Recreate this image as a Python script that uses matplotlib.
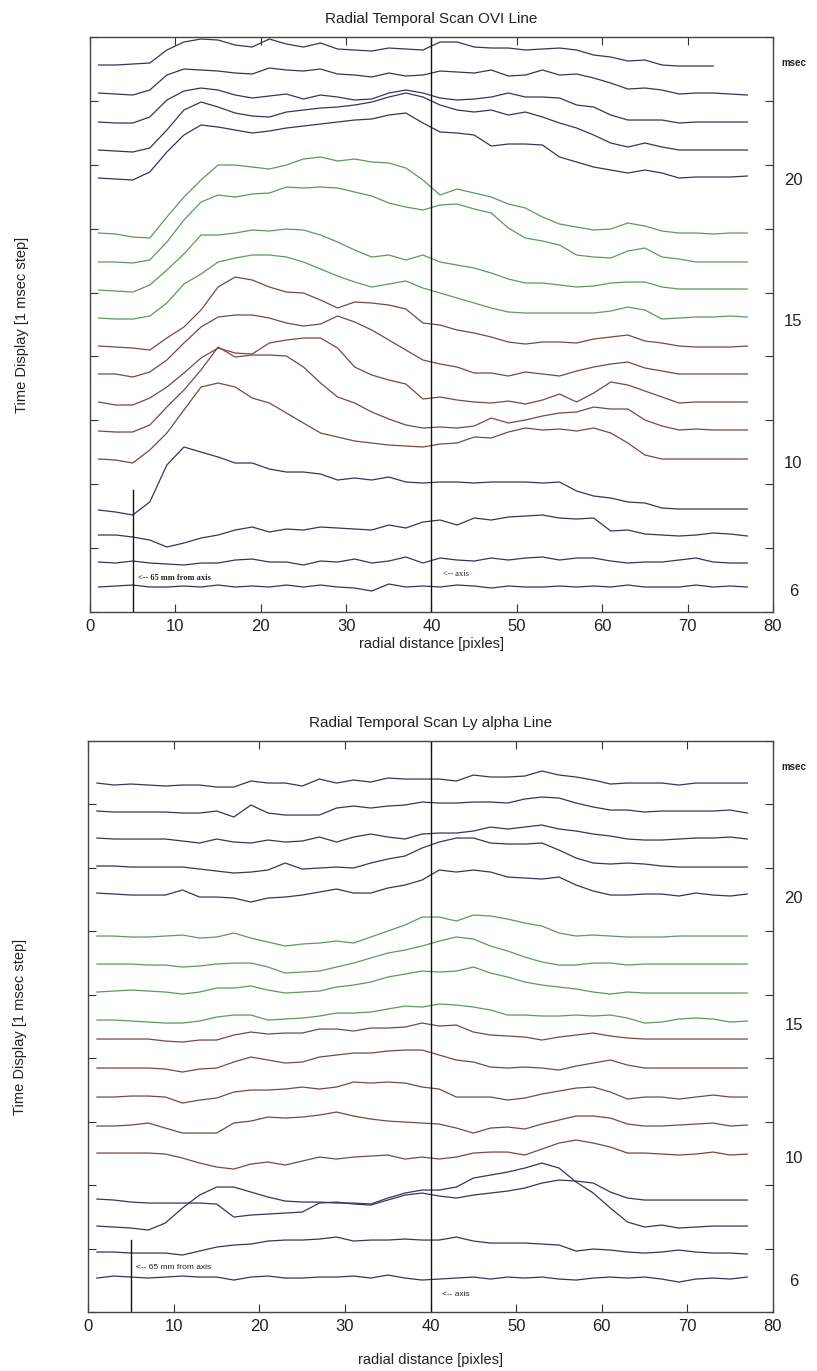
import numpy as np
import matplotlib
matplotlib.use("Agg")
from matplotlib import pyplot as plt

plt.rcParams['font.family'] = ['Liberation Sans', 'DejaVu Sans']

nan = np.nan

# radial position of every reading [pixels]
radial_px = list(range(1, 78, 2))

# ---- OVI line, one intensity trace per msec (arbitrary units, offset for display)
ovi_24 = [547, 547, 548, 549, 562, 570, 573, 572, 567, 565, 573, 568, 565, 569, 563, 562, 561, 564, 563, 562,
          570, 570, 565, 564, 564, 562, 563, 564, 562, 557, 555, 551, 552, 547, 546, 546, 546, nan, nan]
ovi_23 = [519, 518, 517, 522, 537, 543, 542, 541, 539, 538, 544, 542, 541, 543, 538, 537, 535, 539, 536, 537,
          541, 540, 539, 542, 536, 537, 542, 537, 538, 534, 529, 523, 524, 522, 518, 519, 519, 518, 517]
ovi_22 = [490, 489, 489, 495, 512, 521, 524, 522, 517, 514, 516, 518, 513, 517, 515, 512, 513, 519, 522, 519,
          514, 512, 513, 515, 519, 515, 515, 514, 507, 505, 497, 492, 492, 492, 489, 490, 490, 490, 490]
ovi_21 = [462, 461, 460, 464, 482, 502, 510, 505, 499, 496, 495, 500, 502, 504, 505, 507, 510, 515, 519, 515,
          507, 502, 500, 502, 497, 500, 495, 489, 484, 477, 469, 465, 469, 465, 462, 462, 462, 462, 462]
ovi_20 = [434, 433, 432, 440, 460, 477, 487, 485, 482, 479, 481, 484, 486, 488, 490, 492, 493, 497, 499, 489,
          480, 479, 477, 466, 468, 468, 467, 455, 450, 445, 442, 439, 442, 439, 434, 435, 435, 435, 436]
ovi_18 = [379, 378, 375, 374, 395, 415, 432, 447, 447, 445, 443, 447, 453, 455, 451, 453, 450, 449, 444, 432,
          417, 423, 419, 415, 408, 404, 395, 388, 385, 382, 383, 389, 386, 381, 379, 379, 378, 379, 379]
ovi_17 = [350, 350, 349, 352, 370, 392, 410, 417, 415, 418, 419, 425, 424, 425, 424, 420, 416, 409, 405, 402,
          407, 408, 403, 399, 384, 374, 371, 367, 357, 355, 354, 361, 364, 355, 353, 350, 350, 350, 350]
ovi_16 = [322, 321, 320, 327, 342, 358, 377, 377, 379, 382, 381, 383, 382, 377, 370, 362, 355, 357, 352, 357,
          350, 347, 344, 339, 333, 329, 329, 327, 325, 326, 329, 330, 330, 325, 323, 323, 323, 323, 323]
ovi_15 = [294, 293, 293, 296, 309, 328, 338, 350, 354, 357, 357, 355, 350, 343, 336, 330, 325, 328, 331, 324,
          319, 314, 309, 304, 300, 299, 299, 299, 299, 299, 301, 305, 302, 293, 294, 295, 295, 296, 295]
ovi_14 = [266, 265, 264, 262, 274, 285, 302, 325, 335, 332, 325, 320, 319, 312, 304, 310, 309, 307, 303, 289,
          287, 282, 279, 275, 270, 268, 270, 270, 269, 273, 275, 277, 271, 269, 266, 265, 265, 265, 266]
ovi_13 = [238, 238, 235, 240, 252, 269, 285, 295, 297, 297, 294, 289, 286, 288, 296, 290, 282, 272, 262, 252,
          248, 245, 239, 239, 236, 240, 238, 236, 241, 245, 248, 250, 244, 241, 238, 238, 238, 238, 238]
ovi_12 = [210, 207, 207, 214, 225, 239, 254, 264, 259, 258, 269, 272, 274, 274, 264, 245, 237, 232, 228, 213,
          215, 212, 210, 209, 211, 208, 212, 218, 210, 219, 230, 227, 221, 215, 209, 210, 210, 210, 210]
ovi_11 = [181, 180, 180, 187, 205, 222, 242, 265, 255, 257, 257, 256, 245, 229, 215, 209, 200, 193, 187, 184,
          185, 184, 186, 194, 189, 192, 196, 199, 200, 205, 203, 203, 192, 186, 182, 183, 182, 182, 182]
ovi_10 = [153, 152, 149, 162, 179, 202, 225, 229, 225, 214, 209, 199, 189, 179, 175, 171, 169, 167, 166, 165,
          168, 169, 175, 174, 180, 184, 182, 183, 181, 184, 179, 169, 157, 153, 153, 153, 153, 153, 153]
ovi_09 = [102, 100, 97, 110, 147, 165, 160, 155, 149, 149, 143, 140, 140, 138, 132, 134, 132, 135, 130, 129,
          130, 130, 129, 130, 130, 130, 129, 130, 121, 116, 114, 110, 109, 104, 103, 103, 103, 103, 103]
ovi_08 = [77, 77, 75, 72, 65, 69, 74, 77, 82, 85, 80, 83, 82, 85, 84, 83, 82, 87, 84, 90,
          92, 87, 94, 92, 95, 96, 97, 94, 93, 94, 81, 82, 78, 77, 76, 77, 79, 78, 76]
ovi_07 = [50, 49, 51, 49, 48, 47, 49, 49, 52, 53, 50, 50, 47, 51, 50, 53, 49, 51, 55, 49,
          54, 52, 51, 54, 52, 54, 55, 52, 54, 54, 51, 49, 50, 50, 52, 54, 50, 49, 49]
ovi_06 = [25, 26, 27, 25, 25, 26, 25, 27, 25, 26, 25, 27, 25, 27, 25, 24, 21, 28, 25, 26,
          25, 27, 26, 24, 26, 25, 25, 26, 25, 26, 25, 27, 25, 25, 25, 27, 25, 26, 25]

# ---- Ly alpha line
lya_24 = [529, 527, 528, 527, 526, 527, 527, 525, 525, 531, 529, 529, 526, 533, 529, 532, 530, 534, 533, 533,
          533, 531, 537, 535, 535, 536, 541, 537, 535, 532, 528, 529, 529, 529, 527, 529, 529, 529, 529]
lya_23 = [501, 500, 500, 500, 500, 499, 499, 501, 495, 507, 499, 497, 497, 497, 504, 506, 504, 506, 507, 510,
          509, 509, 510, 510, 509, 513, 515, 514, 509, 505, 502, 502, 500, 501, 501, 501, 501, 502, 499]
lya_22 = [474, 473, 473, 473, 473, 471, 469, 473, 470, 469, 472, 470, 471, 475, 470, 475, 478, 475, 473, 478,
          479, 479, 481, 485, 483, 485, 487, 483, 481, 478, 476, 473, 472, 472, 473, 474, 474, 475, 473]
lya_21 = [446, 446, 445, 445, 445, 445, 443, 441, 439, 440, 442, 449, 443, 444, 445, 444, 449, 453, 456, 464,
          470, 474, 474, 469, 468, 468, 469, 462, 454, 449, 448, 449, 448, 446, 445, 445, 445, 445, 445]
lya_20 = [419, 418, 417, 417, 417, 422, 415, 415, 414, 410, 414, 415, 417, 420, 423, 419, 419, 424, 427, 432,
          442, 440, 442, 440, 435, 434, 433, 435, 427, 421, 417, 417, 418, 418, 416, 419, 417, 416, 418]
lya_18 = [376, 376, 375, 375, 376, 377, 374, 375, 379, 374, 370, 366, 368, 369, 371, 369, 375, 381, 387, 395,
          395, 391, 397, 396, 393, 389, 386, 379, 376, 377, 376, 375, 375, 375, 376, 376, 376, 376, 376]
lya_17 = [348, 348, 348, 347, 347, 345, 346, 348, 349, 349, 345, 339, 340, 341, 345, 349, 354, 359, 362, 366,
          371, 375, 373, 366, 361, 355, 350, 347, 347, 349, 349, 347, 348, 348, 348, 348, 348, 348, 348]
lya_16 = [320, 321, 322, 321, 320, 318, 320, 324, 324, 326, 322, 319, 320, 321, 325, 327, 330, 335, 338, 341,
          340, 341, 345, 339, 335, 330, 327, 325, 323, 320, 318, 320, 319, 319, 319, 319, 319, 319, 319]
lya_15 = [292, 292, 291, 290, 289, 289, 291, 295, 297, 297, 292, 293, 294, 296, 299, 299, 300, 303, 306, 305,
          308, 307, 305, 302, 297, 297, 296, 296, 297, 296, 297, 294, 289, 290, 293, 294, 293, 290, 291]
lya_14 = [273, 273, 273, 273, 271, 270, 272, 272, 277, 280, 278, 279, 279, 283, 283, 281, 284, 284, 285, 289,
          286, 287, 280, 277, 276, 275, 272, 275, 277, 279, 276, 274, 273, 273, 273, 273, 273, 273, 273]
lya_13 = [244, 244, 244, 244, 243, 240, 243, 244, 250, 255, 252, 249, 250, 255, 257, 259, 259, 261, 262, 262,
          257, 252, 250, 245, 244, 245, 244, 242, 246, 249, 252, 247, 244, 244, 244, 244, 244, 244, 244]
lya_12 = [215, 215, 216, 216, 215, 209, 212, 214, 220, 222, 222, 223, 225, 223, 225, 230, 229, 230, 229, 225,
          223, 215, 215, 215, 212, 214, 218, 221, 224, 225, 220, 213, 215, 215, 213, 215, 217, 215, 215]
lya_11 = [186, 186, 187, 189, 184, 179, 179, 179, 189, 191, 195, 194, 195, 197, 200, 196, 193, 191, 190, 189,
          188, 184, 179, 184, 185, 183, 188, 192, 196, 196, 194, 188, 186, 186, 187, 188, 189, 186, 187]
lya_10 = [159, 159, 159, 159, 158, 154, 149, 145, 143, 148, 150, 147, 151, 155, 153, 155, 156, 157, 153, 155,
          153, 155, 159, 160, 160, 157, 163, 169, 172, 169, 165, 159, 159, 158, 157, 158, 160, 157, 158]
lya_09 = [113, 112, 110, 109, 109, 109, 109, 108, 95, 97, 98, 99, 100, 109, 110, 108, 107, 112, 117, 119,
          116, 114, 117, 119, 121, 124, 129, 132, 131, 129, 120, 114, 112, 112, 112, 112, 112, 112, 112]
lya_08 = [86, 85, 84, 82, 89, 104, 117, 125, 125, 120, 115, 111, 110, 110, 109, 109, 108, 114, 119, 122,
          122, 125, 134, 137, 140, 144, 149, 144, 130, 119, 104, 90, 85, 87, 84, 85, 86, 86, 86]
lya_07 = [60, 60, 59, 59, 59, 57, 61, 65, 67, 68, 71, 72, 72, 73, 75, 71, 72, 72, 73, 72,
          72, 75, 71, 69, 69, 69, 68, 67, 61, 63, 62, 60, 59, 60, 62, 60, 59, 59, 58]
lya_06 = [34, 36, 35, 34, 35, 36, 35, 35, 32, 35, 36, 34, 34, 35, 35, 36, 34, 37, 34, 32,
          33, 34, 35, 33, 35, 34, 35, 33, 32, 34, 35, 34, 35, 33, 30, 33, 34, 33, 35]

# msec of each trace, top to bottom, and the colour group it is drawn in
trace_msec = [24, 23, 22, 21, 20, 18, 17, 16, 15, 14, 13, 12, 11, 10, 9, 8, 7, 6]
trace_group = ['b', 'b', 'b', 'b', 'b', 'g', 'g', 'g', 'g', 'r', 'r', 'r', 'r', 'r', 'b', 'b', 'b', 'b']
ovi_traces = [ovi_24, ovi_23, ovi_22, ovi_21, ovi_20, ovi_18, ovi_17, ovi_16, ovi_15,
              ovi_14, ovi_13, ovi_12, ovi_11, ovi_10, ovi_09, ovi_08, ovi_07, ovi_06]
lya_traces = [lya_24, lya_23, lya_22, lya_21, lya_20, lya_18, lya_17, lya_16, lya_15,
              lya_14, lya_13, lya_12, lya_11, lya_10, lya_09, lya_08, lya_07, lya_06]
labelled_msec = [20, 15, 10, 6]

axis_px = 40        # plasma axis
mark_65mm_px = 5    # 65 mm from axis

colors = {'b': '#35355f', 'g': '#5c9a5c', 'r': '#7d4545'}
txt = '#222222'

fig = plt.figure(figsize=(8.17, 13.71), dpi=100)
ax1 = fig.add_axes([0.1102, 0.5536, 0.8359, 0.4194])
ax2 = fig.add_axes([0.1081, 0.0430, 0.8380, 0.4165])


def draw_panel(ax, traces, top, title, mark_top, serif_note, note_y, axis_note_y, xpad):
    for tr, grp in zip(traces, trace_group):
        ax.plot(radial_px, tr, color=colors[grp], lw=0.9)
    ax.axvline(axis_px, color='#111111', lw=1.0)
    ax.plot([mark_65mm_px, mark_65mm_px], [0, mark_top], color='#111111', lw=1.0)

    ax.set_xlim(0, 80)
    ax.set_ylim(0, top)
    ax.set_xticks(range(0, 81, 10))
    ax.set_yticks(np.linspace(0, top, 10))
    ax.set_yticklabels([])
    ax.tick_params(direction='in', length=6, width=0.8, top=True, right=True,
                   labelsize=12, colors='#333333', labelcolor=txt, pad=5)
    for sp in ax.spines.values():
        sp.set_color('#444444')
        sp.set_linewidth(1.0)

    ax.set_title(title, fontsize=11, color=txt, pad=10)
    ax.set_xlabel('radial distance [pixles]', fontsize=10.5, color=txt, labelpad=xpad)
    ax.set_ylabel('Time Display [1 msec step]', fontsize=10.5, color=txt)
    ax.yaxis.set_label_coords(-0.09, 0.5)

    # msec labels on the right, next to the matching trace
    ax.text(82.4, top * 0.955, 'msec', fontsize=7, fontweight='bold', color=txt,
            ha='center', va='center', clip_on=False)
    for m in labelled_msec:
        tr = traces[trace_msec.index(m)]
        ax.text(82.4, tr[-1] - 4, str(m), fontsize=12, color=txt,
                ha='center', va='center', clip_on=False)

    fam = ['Liberation Serif', 'DejaVu Serif'] if serif_note else ['Liberation Sans', 'DejaVu Sans']
    ax.text(5.6, note_y, '<-- 65 mm from axis', fontsize=6, family=fam,
            fontweight='bold' if serif_note else 'normal', color=txt, va='center')
    ax.text(41.3, axis_note_y, '<-- axis', fontsize=6, family=fam, color=txt, va='center')


draw_panel(ax1, ovi_traces, 575, 'Radial Temporal Scan OVI Line', 122, True, 34, 38, 2)
draw_panel(ax2, lya_traces, 571, 'Radial Temporal Scan Ly alpha Line', 72, False, 45, 18, 14)

fig.savefig('out.png', dpi=100, facecolor='white')
